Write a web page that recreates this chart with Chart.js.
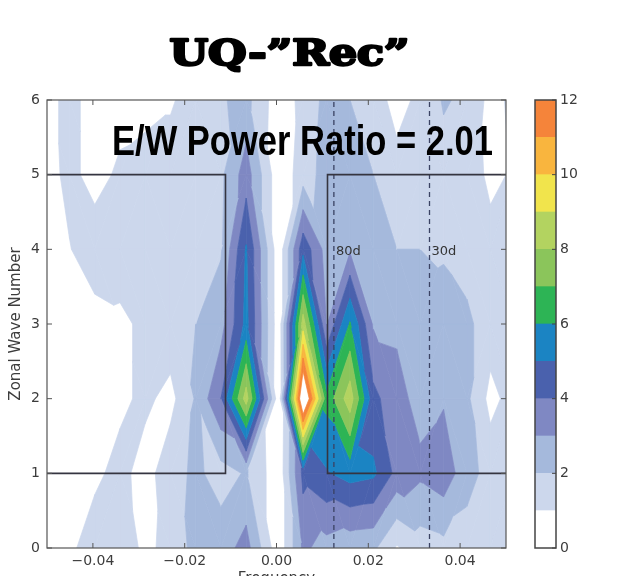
<!DOCTYPE html>
<html lang="en">
<head>
<meta charset="UTF-8">
<title>UQ-”Rec” spectrum</title>
<script src="https://cdn.jsdelivr.net/npm/chart.js"></script>
<style>
  html, body { margin: 0; padding: 0; background: #fff; overflow: hidden; }
  #spectrum { position: absolute; left: 0; top: 0; }
  #colorbar { position: absolute; left: 520px; top: 0; }
</style>
</head>
<body>
<canvas id="spectrum" width="520" height="592"></canvas>
<canvas id="colorbar" width="103" height="592"></canvas>
<script>
// frequency nodes (cpd) of the power grid, and zonal wavenumbers
const freqs = [-0.0506, -0.0451, -0.0396, -0.0341, -0.0286, -0.0231, -0.0176, -0.0121, -0.0066, 0.0005,
               0.0058, 0.0109, 0.0160, 0.0211, 0.0262, 0.0313, 0.0364, 0.0415, 0.0466, 0.0517];
const waves = [0, 1, 2, 3, 4, 5, 6];

// power along each wavenumber, one value per frequency node
const powerK0 = [0.5, 0.8, 1.5, 1.8, 0.7, 1.4, 2.3, 2.5, 3.4, 0.3, 3.2, 2.6, 2.3, 2.2, 0.9, 1.5, 1.7, 1.5, 1.3, 1.2];
const powerK1 = [0.4, 0.5, 0.8, 1.3, 0.6, 1.6, 2.2, 1.6, 2.1, 0.3, 4.3, 4.9, 5.4, 5.2, 3.7, 3.2, 3.6, 2.4, 1.6, 1.4];
const powerK2 = [0.3, 0.4, 0.5, 0.8, 1.2, 0.7, 2.1, 4.0, 8.5, 0.2, 14.0, 6.3, 8.6, 4.3, 3.3, 2.7, 2.9, 2.2, 0.7, 1.4];
const powerK3 = [0.3, 0.5, 0.6, 0.8, 1.2, 1.6, 2.0, 2.6, 5.3, 0.3, 8.5, 3.0, 6.1, 2.9, 2.85, 2.3, 2.4, 2.2, 1.5, 1.3];
const powerK4 = [0.6, 0.95, 1.6, 1.5, 1.5, 1.5, 1.6, 1.9, 5.1, 0.3, 4.7, 2.6, 2.9, 2.5, 2.0, 2.0, 1.9, 1.6, 1.3, 1.2];
const powerK5 = [0.5, 1.3, 0.6, 1.2, 1.4, 1.4, 1.5, 1.8, 3.5, 0.3, 1.5, 2.4, 2.2, 2.0, 1.3, 1.4, 1.6, 1.5, 0.8, 1.1];
const powerK6 = [0.6, 1.3, 0.6, 0.6, 0.7, 0.9, 1.4, 1.9, 2.3, 0.4, 1.3, 2.3, 2.0, 1.4, 0.7, 1.2, 2.1, 1.8, 0.7, 1.2];
const power = [powerK0, powerK1, powerK2, powerK3, powerK4, powerK5, powerK6];

// contour levels and fill colours (one colour per band)
const levels = [0, 1, 2, 3, 4, 5, 6, 7, 8, 9, 10, 11, 12];
const levelColors = ['#ffffff', '#ccd7ec', '#a5b9dc', '#7f88c3', '#4a61ad', '#1b84c3',
                     '#2db455', '#8bc55b', '#b3d360', '#f1e44c', '#f9b53e', '#f5843a'];

const freqTicks = [-0.04, -0.02, 0, 0.02, 0.04];
const waveTicks = [0, 1, 2, 3, 4, 5, 6];
const barTicks = [0, 2, 4, 6, 8, 10, 12];

// MJO box: periods longer than 90 days, wavenumbers 1-5; reference periods
const boxDays = 90;
const boxWaves = [1, 5];
const periodDays = [80, 30];
const ratioText = 'E/W Power Ratio = 2.01';
const titleText = 'UQ-\u201DRec\u201D';

const xMin = -0.05, xMax = 0.05;
const tickFont = { family: 'DejaVu Sans', size: 14 };
const textColor = '#3c3c3c';

// keep the part of a polygon where value is above (or below) t
function clipPoly(poly, t, above) {
    const out = [];
    for (let k = 0; k < poly.length; k++) {
        const p = poly[k], q = poly[(k + 1) % poly.length];
        const pin = above ? p.v >= t : p.v <= t;
        const qin = above ? q.v >= t : q.v <= t;
        if (pin) out.push(p);
        if (pin !== qin) {
            const s = (t - p.v) / (q.v - p.v);
            out.push({ x: p.x + s * (q.x - p.x), y: p.y + s * (q.y - p.y), v: t });
        }
    }
    return out;
}

function fillBands(ctx, tri) {
    for (let b = 1; b < levelColors.length; b++) {
        let poly = clipPoly(tri, levels[b], true);
        if (poly.length < 3) continue;
        poly = clipPoly(poly, levels[b + 1], false);
        if (poly.length < 3) continue;
        ctx.beginPath();
        ctx.moveTo(poly[0].x, poly[0].y);
        for (let k = 1; k < poly.length; k++) ctx.lineTo(poly[k].x, poly[k].y);
        ctx.closePath();
        ctx.fillStyle = levelColors[b];
        ctx.strokeStyle = levelColors[b];
        ctx.fill();
        ctx.stroke();
    }
}

// filled contours: each grid cell cut in two along the diagonal that
// skips its most extreme corner, so peaks come out as diamonds
const contourPlugin = {
    id: 'contourFill',
    beforeDatasetsDraw(chart) {
        const { ctx, chartArea: a, scales: { x, y } } = chart;
        const px = freqs.map(f => x.getPixelForValue(f));
        const py = waves.map(w => y.getPixelForValue(w));
        ctx.save();
        ctx.beginPath();
        ctx.rect(a.left, a.top, a.width, a.height);
        ctx.clip();
        ctx.lineWidth = 0.7;
        ctx.lineJoin = 'round';
        for (let j = 0; j < waves.length - 1; j++) {
            for (let i = 0; i < freqs.length - 1; i++) {
                // corners in ring order
                const ring = [
                    { x: px[i], y: py[j], v: power[j][i] },
                    { x: px[i + 1], y: py[j], v: power[j][i + 1] },
                    { x: px[i + 1], y: py[j + 1], v: power[j + 1][i + 1] },
                    { x: px[i], y: py[j + 1], v: power[j + 1][i] }
                ];
                const mean = ring.reduce((s, p) => s + p.v, 0) / 4;
                let far = 0;
                ring.forEach((p, k) => {
                    if (Math.abs(p.v - mean) > Math.abs(ring[far].v - mean)) far = k;
                });
                const n = (far + 1) % 4, o = (far + 2) % 4, l = (far + 3) % 4;
                fillBands(ctx, [ring[far], ring[n], ring[l]]);
                fillBands(ctx, [ring[n], ring[o], ring[l]]);
            }
        }
        ctx.restore();
    },
    afterDatasetsDraw(chart) {
        const { ctx, chartArea: a, scales: { x, y } } = chart;
        ctx.save();
        // period labels next to the dashed lines
        ctx.font = '13px "DejaVu Sans"';
        ctx.fillStyle = '#333';
        ctx.textBaseline = 'middle';
        periodDays.forEach(d => {
            ctx.fillText(d + 'd', x.getPixelForValue(1 / d) + 2, y.getPixelForValue(4) + 2);
        });
        // power ratio annotation
        ctx.font = 'bold 43px "Liberation Sans"';
        ctx.fillStyle = '#000';
        ctx.textBaseline = 'alphabetic';
        const w = ctx.measureText(ratioText).width;
        ctx.translate(a.right - 13, a.top + 55);
        ctx.scale(381 / w, 1);
        ctx.textAlign = 'right';
        ctx.fillText(ratioText, 0, 0);
        ctx.restore();
    },
    afterDraw(chart) {
        const { ctx, chartArea: a, scales: { x, y } } = chart;
        ctx.save();
        // frame and inward ticks on all four sides
        ctx.strokeStyle = '#555';
        ctx.lineWidth = 1.2;
        ctx.strokeRect(a.left, a.top, a.width, a.height);
        ctx.lineWidth = 1;
        ctx.beginPath();
        freqTicks.forEach(f => {
            const p = x.getPixelForValue(f);
            ctx.moveTo(p, a.bottom); ctx.lineTo(p, a.bottom - 5);
            ctx.moveTo(p, a.top); ctx.lineTo(p, a.top + 5);
        });
        waveTicks.forEach(k => {
            const p = y.getPixelForValue(k);
            ctx.moveTo(a.left, p); ctx.lineTo(a.left + 5, p);
            ctx.moveTo(a.right, p); ctx.lineTo(a.right - 5, p);
        });
        ctx.stroke();
        // heavy serif title
        ctx.font = 'bold 35px "DejaVu Serif"';
        ctx.fillStyle = '#000';
        ctx.strokeStyle = '#000';
        ctx.lineWidth = 2.4;
        ctx.lineJoin = 'round';
        const tw = ctx.measureText(titleText).width;
        ctx.translate((a.left + a.right) / 2 + 13, 65);
        ctx.scale(240 / tw, 1);
        ctx.textAlign = 'center';
        ctx.fillText(titleText, 0, 0);
        ctx.strokeText(titleText, 0, 0);
        ctx.restore();
    }
};

const boxStyle = { showLine: true, pointRadius: 0, borderColor: '#353540', borderWidth: 1.6, fill: false };
const dashStyle = { showLine: true, pointRadius: 0, borderColor: '#3a4263', borderWidth: 1.3, borderDash: [5, 4], fill: false };

const fBox = 1 / boxDays;
const datasets = [
    Object.assign({ data: [
        { x: xMin, y: boxWaves[1] }, { x: -fBox, y: boxWaves[1] },
        { x: -fBox, y: boxWaves[0] }, { x: xMin, y: boxWaves[0] }] }, boxStyle),
    Object.assign({ data: [
        { x: xMax, y: boxWaves[1] }, { x: fBox, y: boxWaves[1] },
        { x: fBox, y: boxWaves[0] }, { x: xMax, y: boxWaves[0] }] }, boxStyle)
];
periodDays.forEach(d => {
    datasets.push(Object.assign({ data: [
        { x: 1 / d, y: waves[0] }, { x: 1 / d, y: waves[waves.length - 1] }] }, dashStyle));
});

new Chart(document.getElementById('spectrum'), {
    type: 'scatter',
    data: { datasets },
    options: {
        responsive: false,
        animation: false,
        layout: { padding: { top: 100, right: 14, left: 0, bottom: 0 } },
        plugins: { legend: { display: false }, tooltip: { enabled: false } },
        scales: {
            x: {
                type: 'linear', min: xMin, max: xMax,
                afterBuildTicks: s => { s.ticks = freqTicks.map(v => ({ value: v })); },
                afterFit: s => { s.height = 44; },
                grid: { display: false, drawTicks: false },
                border: { display: false },
                ticks: {
                    font: tickFont, color: textColor, padding: 5, maxRotation: 0,
                    callback: v => v.toFixed(2).replace('-', '\u2212')
                },
                title: { display: true, text: 'Frequency', font: { family: 'DejaVu Sans', size: 15 },
                         color: textColor, padding: { top: 0, bottom: 4 } }
            },
            y: {
                type: 'linear', min: 0, max: 6,
                afterBuildTicks: s => { s.ticks = waveTicks.map(v => ({ value: v })); },
                afterFit: s => { s.width = 47; },
                grid: { display: false, drawTicks: false },
                border: { display: false },
                ticks: { font: tickFont, color: textColor, padding: 7 },
                title: { display: true, text: 'Zonal Wave Number', font: { family: 'DejaVu Sans', size: 15 },
                         color: textColor, padding: { top: 7, bottom: 0 } }
            }
        }
    },
    plugins: [contourPlugin]
});

// colour bar: one stacked segment per contour band
const barFrame = {
    id: 'barFrame',
    afterDraw(chart) {
        const { ctx, chartArea: a, scales: { y } } = chart;
        ctx.save();
        ctx.strokeStyle = '#444';
        ctx.lineWidth = 1.5;
        ctx.strokeRect(a.left, a.top, a.width, a.height);
        ctx.lineWidth = 1;
        ctx.beginPath();
        barTicks.forEach(v => {
            const p = y.getPixelForValue(v);
            ctx.moveTo(a.right, p); ctx.lineTo(a.right - 4, p);
        });
        ctx.stroke();
        ctx.restore();
    }
};

new Chart(document.getElementById('colorbar'), {
    type: 'bar',
    data: {
        labels: [''],
        datasets: levelColors.map((c, b) => ({
            data: [levels[b + 1] - levels[b]],
            backgroundColor: c, borderWidth: 0,
            barPercentage: 1, categoryPercentage: 1
        }))
    },
    options: {
        responsive: false,
        animation: false,
        layout: { padding: { top: 100, left: 15, right: 0, bottom: 44 } },
        plugins: { legend: { display: false }, tooltip: { enabled: false } },
        scales: {
            x: { display: false, stacked: true },
            y: {
                stacked: true, position: 'right', min: 0, max: 12,
                afterBuildTicks: s => { s.ticks = barTicks.map(v => ({ value: v })); },
                afterFit: s => { s.width = 67; },
                grid: { display: false, drawTicks: false },
                border: { display: false },
                ticks: { font: tickFont, color: textColor, padding: 4 }
            }
        }
    },
    plugins: [barFrame]
});
</script>
</body>
</html>
